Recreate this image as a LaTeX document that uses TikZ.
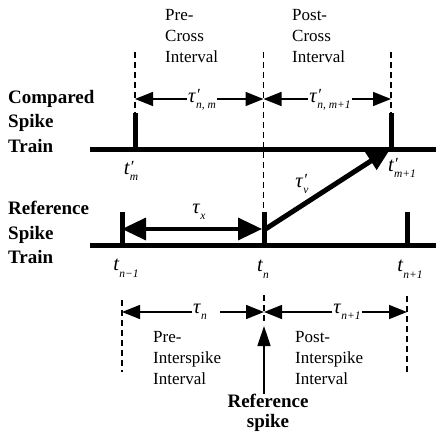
\documentclass[tikz,border=0pt]{standalone}
\usepackage{fontspec}
\setmainfont{Liberation Serif}
\usetikzlibrary{arrows.meta}
\newcommand\lab[3]{\textit{#1}\rlap{\raisebox{0.08em}{\fontsize{17}{17}\selectfont\itshape #2}}\raisebox{-0.32em}{\fontsize{11.5}{11.5}\selectfont\itshape #3}}
\begin{document}
\begin{tikzpicture}[x=1pt,y=-1pt,
  train/.style={line width=4.5pt},
  spikeline/.style={line width=5pt},
  vdash/.style={line width=1.5pt, dash pattern=on 6pt off 4pt},
  iv/.style={line width=1.5pt, -{Triangle[length=18pt,width=14pt]}},
  bigarrow/.style={line width=3.5pt, {Triangle[length=24pt,width=22pt]}-{Triangle[length=24pt,width=22pt]}},
  obarrow/.style={line width=5pt, -{Triangle[length=24pt,width=20pt]}},
  refarrow/.style={line width=1.5pt, -{Triangle[length=20pt,width=13pt]}},
  txt/.style={font=\fontsize{17}{21}\selectfont\rmfamily, align=left, anchor=north west, inner sep=0pt},
  btxt/.style={font=\fontsize{19}{24.5}\selectfont\bfseries, align=left, anchor=north west, inner sep=0pt},
  mlbl/.style={font=\fontsize{20.5}{21}\selectfont\rmfamily, inner sep=1pt},
]
\useasboundingbox (0,0) rectangle (436,438);

% coordinates
\coordinate (cL) at (90,149.5);  \coordinate (cR) at (436,149.5);
\coordinate (rL) at (90,245.7);  \coordinate (rR) at (436,245.7);
\coordinate (sm) at (135,149.5); \coordinate (smT) at (135,113);
\coordinate (sm1) at (391,149.5); \coordinate (sm1T) at (391,113);
\coordinate (sn0) at (122,245.7); \coordinate (sn0T) at (122,212);
\coordinate (sn) at (264,245.7); \coordinate (snT) at (264,212);
\coordinate (sn2) at (407,245.7); \coordinate (sn2T) at (407,212);

% dashed verticals (top)
\coordinate (d1a) at (135,52); \coordinate (d1b) at (135,113);
\coordinate (d2a) at (263.5,52); \coordinate (d2b) at (263.5,212);
\coordinate (d3a) at (391,52); \coordinate (d3b) at (391,113);
\draw[vdash] (d1a) -- (d1b);
\draw[vdash] (d2a) -- (d2b);
\draw[vdash] (d3a) -- (d3b);

% dashed verticals (bottom)
\coordinate (e1a) at (122,300); \coordinate (e1b) at (122,372);
\coordinate (e3a) at (407,296); \coordinate (e3b) at (407,372);
\coordinate (e2a) at (264,295); \coordinate (e2b) at (264,322);
\draw[vdash] (e1a) -- (e1b);
\draw[vdash] (e3a) -- (e3b);
\draw[vdash] (e2a) -- (e2b);

% trains
\draw[train] (cL) -- (cR);
\draw[train] (rL) -- (rR);
\draw[spikeline] (sm) -- (smT);
\draw[spikeline] (sm1) -- (sm1T);
\draw[spikeline] (sn0) -- (sn0T);
\draw[spikeline] (sn) -- (snT);
\draw[spikeline] (sn2) -- (sn2T);

% left labels
\node[btxt] (comp) at (8,90) {Compared\\Spike\\Train};
\node[btxt] (ref) at (8,201) {Reference\\Spike\\Train};

% top texts
\node[txt] (precross) at (165,9) {Pre-\\Cross\\Interval};
\node[txt] (postcross) at (292,9) {Post-\\Cross\\Interval};

% top intervals
\coordinate (a1) at (135,99); \coordinate (a2) at (263.5,99); \coordinate (a3) at (391,99);
\node[mlbl] (tnm) at (202,100) {\lab{τ}{′}{n, m}};
\node[mlbl] (tnm1) at (330,100) {\lab{τ}{′}{n, m+1}};
\draw[iv] (tnm.west |- a1) -- (a1);
\draw[iv] (tnm.east |- a2) -- (a2);
\draw[iv] (tnm1.west |- a2) -- (a2);
\draw[iv] (tnm1.east |- a3) -- (a3);

% spike time labels
\node[mlbl] (ltm) at (131,171) {\lab{t}{′}{m}};
\node[mlbl] (ltm1) at (402,168) {\lab{t}{′}{m+1}};
\node[mlbl] (ltn0) at (126,268) {\lab{t}{}{n−1}};
\node[mlbl] (ltn) at (263,269) {\lab{t}{}{n}};
\node[mlbl] (ltn2) at (410,269) {\lab{t}{}{n+1}};

% tau_x
\coordinate (x1) at (122,229); \coordinate (x2) at (262,229);
\draw[bigarrow] (x1) -- (x2);
\node[mlbl] (taux) at (199,212) {\lab{τ}{}{x}};

% oblique
\coordinate (o1) at (264,230); \coordinate (o2) at (391,148);
\draw[obarrow] (o1) -- (o2);
\node[mlbl] (tauv) at (302,184) {\lab{τ}{′}{v}};

% bottom intervals
\coordinate (b1) at (122,312); \coordinate (b2) at (264,312); \coordinate (b3) at (407,312);
\node[mlbl] (tn) at (200,312) {\lab{τ}{}{n}};
\node[mlbl] (tn1) at (347,312) {\lab{τ}{}{n+1}};
\draw[iv] (tn.west |- b1) -- (b1);
\draw[iv] ([xshift=12pt]tn.east |- b2) -- (b2);
\draw[iv] (tn1.west |- b2) -- (b2);
\draw[iv] (tn1.east |- b3) -- (b3);

\node[txt] (preisi) at (153,331) {Pre-\\Interspike\\Interval};
\node[txt] (postisi) at (295,331) {Post-\\Interspike\\Interval};

% reference spike
\node[font=\fontsize{19}{20}\selectfont\bfseries, align=center, anchor=north, inner sep=0pt] (refspike) at (268,393.5) {Reference\\spike};
\coordinate (rs) at (264,326);
\draw[refarrow] (refspike.north -| rs) -- (rs);
\end{tikzpicture}
\end{document}
